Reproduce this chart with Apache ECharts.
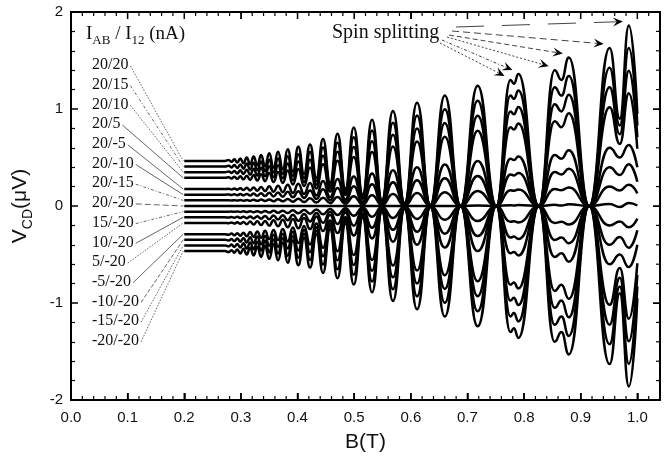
<!DOCTYPE html>
<html><head><meta charset="utf-8">
<script src="https://cdn.jsdelivr.net/npm/echarts@6/dist/echarts.min.js"></script>
<style>html,body{margin:0;padding:0;background:#fff}#c{width:664px;height:461px}</style>
</head><body><div id="c"></div>
<script>
// Magnetic field samples (T): flat start, then SdH extrema (peak/trough alternating)
const fieldB = [0.200,0.272,0.2786,0.2834,0.2884,0.2936,0.2990,0.3045,0.3103,0.3163,
  0.3225,0.3290,0.3357,0.3427,0.3500,0.3577,0.3656,0.3740,0.3827,0.3918,
  0.4014,0.4115,0.4221,0.4333,0.4450,0.4575,0.4706,0.4845,0.4993,0.5150,
  0.5316,0.5490,0.5685,0.5890,0.6110,0.6345,0.6600,0.6880,0.7180,0.7510,
  0.7760,0.7820,0.7900,0.8260,0.8540,0.8660,0.8790,0.9150,0.9510,0.9690,
  0.9850,1.0000];

const curveLabels = ['20/20','20/15','20/10','20/5','20/-5','20/-10','20/-15','20/-20',
  '15/-20','10/-20','5/-20','-5/-20','-10/-20','-15/-20','-20/-20'];

const v2020 = [0.464,0.464,0.475,0.455,0.482,0.448,0.490,0.440,0.500,0.430,
  0.510,0.420,0.525,0.410,0.545,0.395,0.560,0.380,0.585,0.355,
  0.610,0.330,0.635,0.290,0.690,0.240,0.745,0.180,0.810,0.120,
  0.890,0.060,0.980,0.030,1.065,0.010,1.140,0,1.240,0,
  1.300,1.260,1.360,0,1.400,1.300,1.530,0,1.630,0.900,
  1.860,0.950];
const v2015 = [0.406,0.406,0.416,0.398,0.422,0.392,0.429,0.385,0.438,0.376,
  0.446,0.368,0.459,0.359,0.477,0.346,0.490,0.333,0.512,0.311,
  0.534,0.289,0.556,0.254,0.604,0.210,0.652,0.158,0.709,0.105,
  0.779,0.053,0.858,0.026,0.932,0.009,0.998,0,1.085,0,
  1.138,1.103,1.190,0,1.225,1.138,1.339,0,1.426,0.830,
  1.628,0.830];
const v2010 = [0.348,0.348,0.356,0.341,0.362,0.336,0.368,0.330,0.375,0.323,
  0.383,0.315,0.394,0.308,0.409,0.296,0.420,0.285,0.439,0.266,
  0.458,0.248,0.476,0.218,0.518,0.180,0.559,0.135,0.608,0.090,
  0.668,0.045,0.735,0.023,0.799,0.008,0.855,0,0.930,0,
  0.975,0.945,1.020,0,1.050,0.975,1.148,0,1.223,0.740,
  1.395,0.710];
const v2005 = [0.290,0.290,0.297,0.284,0.301,0.280,0.306,0.275,0.313,0.269,
  0.319,0.263,0.328,0.256,0.341,0.247,0.350,0.238,0.366,0.222,
  0.381,0.206,0.397,0.181,0.431,0.150,0.466,0.113,0.506,0.075,
  0.556,0.038,0.613,0.019,0.666,0.006,0.713,0,0.775,0,
  0.813,0.788,0.850,0,0.875,0.813,0.956,0,1.019,0.640,
  1.163,0.590];
const v20m5 = [0.174,0.174,0.178,0.171,0.181,0.168,0.184,0.165,0.188,0.161,
  0.191,0.158,0.197,0.154,0.204,0.148,0.210,0.143,0.219,0.133,
  0.229,0.124,0.238,0.109,0.259,0.090,0.279,0.068,0.304,0.045,
  0.334,0.023,0.368,0.011,0.399,0.004,0.428,0,0.465,0,
  0.488,0.473,0.510,0,0.525,0.488,0.574,0,0.600,0.500,
  0.630,0.400];
const v20m10 = [0.116,0.116,0.119,0.114,0.120,0.112,0.123,0.110,0.125,0.108,
  0.128,0.105,0.131,0.103,0.136,0.099,0.140,0.095,0.146,0.089,
  0.153,0.083,0.159,0.073,0.173,0.060,0.186,0.045,0.203,0.030,
  0.223,0.015,0.245,0.008,0.266,0.003,0.285,0,0.310,0,
  0.325,0.315,0.340,0,0.350,0.325,0.383,0,0.400,0.320,
  0.430,0.250];
const v20m15 = [0.058,0.058,0.059,0.057,0.060,0.056,0.061,0.055,0.063,0.054,
  0.064,0.053,0.066,0.051,0.068,0.049,0.070,0.048,0.073,0.044,
  0.076,0.041,0.079,0.036,0.086,0.030,0.093,0.023,0.101,0.015,
  0.111,0.008,0.123,0.004,0.133,0.001,0.143,0,0.155,0,
  0.163,0.158,0.170,0,0.175,0.163,0.191,0,0.200,0.160,
  0.220,0.130];
const v20m20 = [0,0,0,0,0,0,0,0,0,0,
  0,0,0,0,0,0,0,0,0,0,
  0,0,0,0,0,0,0,0,0,0,
  0,0,0,0,0,0,0,0,0.005,0,
  0.008,0.005,0.010,0,0.012,0.004,0.018,0,0.020,-0.010,
  0.030,0.005];
const v15m20 = [-0.058,-0.058,-0.059,-0.057,-0.060,-0.056,-0.061,-0.055,-0.063,-0.054,
  -0.064,-0.053,-0.066,-0.051,-0.068,-0.049,-0.070,-0.048,-0.073,-0.044,
  -0.076,-0.041,-0.079,-0.036,-0.086,-0.030,-0.093,-0.023,-0.101,-0.015,
  -0.111,-0.008,-0.123,-0.004,-0.133,-0.001,-0.143,0,-0.155,0,
  -0.163,-0.158,-0.170,0,-0.175,-0.163,-0.191,0,-0.200,-0.160,
  -0.220,-0.130];
const v10m20 = [-0.116,-0.116,-0.119,-0.114,-0.120,-0.112,-0.123,-0.110,-0.125,-0.108,
  -0.128,-0.105,-0.131,-0.103,-0.136,-0.099,-0.140,-0.095,-0.146,-0.089,
  -0.153,-0.083,-0.159,-0.073,-0.173,-0.060,-0.186,-0.045,-0.203,-0.030,
  -0.223,-0.015,-0.245,-0.008,-0.266,-0.003,-0.285,0,-0.310,0,
  -0.325,-0.315,-0.340,0,-0.350,-0.325,-0.383,0,-0.400,-0.320,
  -0.430,-0.250];
const v05m20 = [-0.174,-0.174,-0.178,-0.171,-0.181,-0.168,-0.184,-0.165,-0.188,-0.161,
  -0.191,-0.158,-0.197,-0.154,-0.204,-0.148,-0.210,-0.143,-0.219,-0.133,
  -0.229,-0.124,-0.238,-0.109,-0.259,-0.090,-0.279,-0.068,-0.304,-0.045,
  -0.334,-0.023,-0.368,-0.011,-0.399,-0.004,-0.428,0,-0.465,0,
  -0.488,-0.473,-0.510,0,-0.525,-0.488,-0.574,0,-0.600,-0.500,
  -0.630,-0.400];
const vm05m20 = [-0.290,-0.290,-0.297,-0.284,-0.301,-0.280,-0.306,-0.275,-0.313,-0.269,
  -0.319,-0.263,-0.328,-0.256,-0.341,-0.247,-0.350,-0.238,-0.366,-0.222,
  -0.381,-0.206,-0.397,-0.181,-0.431,-0.150,-0.466,-0.113,-0.506,-0.075,
  -0.556,-0.038,-0.613,-0.019,-0.666,-0.006,-0.713,0,-0.775,0,
  -0.813,-0.788,-0.850,0,-0.875,-0.813,-0.956,0,-1.019,-0.640,
  -1.163,-0.590];
const vm10m20 = [-0.348,-0.348,-0.356,-0.341,-0.362,-0.336,-0.368,-0.330,-0.375,-0.323,
  -0.383,-0.315,-0.394,-0.308,-0.409,-0.296,-0.420,-0.285,-0.439,-0.266,
  -0.458,-0.248,-0.476,-0.218,-0.518,-0.180,-0.559,-0.135,-0.608,-0.090,
  -0.668,-0.045,-0.735,-0.023,-0.799,-0.008,-0.855,0,-0.930,0,
  -0.975,-0.945,-1.020,0,-1.050,-0.975,-1.148,0,-1.223,-0.740,
  -1.395,-0.710];
const vm15m20 = [-0.406,-0.406,-0.416,-0.398,-0.422,-0.392,-0.429,-0.385,-0.438,-0.376,
  -0.446,-0.368,-0.459,-0.359,-0.477,-0.346,-0.490,-0.333,-0.512,-0.311,
  -0.534,-0.289,-0.556,-0.254,-0.604,-0.210,-0.652,-0.158,-0.709,-0.105,
  -0.779,-0.053,-0.858,-0.026,-0.932,-0.009,-0.998,0,-1.085,0,
  -1.138,-1.103,-1.190,0,-1.225,-1.138,-1.339,0,-1.426,-0.830,
  -1.628,-0.830];
const vm20m20 = [-0.464,-0.464,-0.475,-0.455,-0.482,-0.448,-0.490,-0.440,-0.500,-0.430,
  -0.510,-0.420,-0.525,-0.410,-0.545,-0.395,-0.560,-0.380,-0.585,-0.355,
  -0.610,-0.330,-0.635,-0.290,-0.690,-0.240,-0.745,-0.180,-0.810,-0.120,
  -0.890,-0.060,-0.980,-0.030,-1.065,-0.010,-1.140,0,-1.240,0,
  -1.300,-1.260,-1.360,0,-1.400,-1.300,-1.530,0,-1.630,-0.900,
  -1.860,-0.950];

const curves = [v2020,v2015,v2010,v2005,v20m5,v20m10,v20m15,v20m20,
  v15m20,v10m20,v05m20,vm05m20,vm10m20,vm15m20,vm20m20];

// Peaks marked as spin splitting (indices into fieldB)
const spinPeakIdx = [40,42,44,46,48,50];

const xTickLabels = ['0.0','0.1','0.2','0.3','0.4','0.5','0.6','0.7','0.8','0.9','1.0'];
const yTickLabels = ['-2','-1','0','1','2'];

const SANS = '"Liberation Sans", Arial, sans-serif';
const SERIF = '"Liberation Serif", "Times New Roman", serif';
const X_MIN = 0, X_MAX = 1.04, Y_MIN = -2, Y_MAX = 2;

const chart = echarts.init(document.getElementById('c'), null, {renderer:'canvas'});

const series = curves.map((vals, k) => ({
  type: 'line',
  name: curveLabels[k],
  data: vals.map((v, i) => [fieldB[i], v]),
  symbol: 'none',
  smooth: 0.5,
  smoothMonotone: 'x',
  lineStyle: {color: '#000', width: 2.5},
  silent: true,
  z: 3
}));

function axisLine() { return {show: true, onZero: false, lineStyle: {color: '#000', width: 2}}; }

const option = {
  animation: false,
  backgroundColor: '#fff',
  grid: {left: 71, right: 4, top: 12, bottom: 61, outerBoundsMode: 'none'},
  xAxis: [
    {type: 'value', position: 'bottom', min: X_MIN, max: X_MAX, interval: 0.1,
     axisLine: axisLine(),
     axisTick: {show: true, inside: true, length: 7, lineStyle: {color: '#000', width: 1.5}},
     axisLabel: {show: true, margin: 10, color: '#111', fontFamily: SANS, fontSize: 15,
       formatter: v => {
         const k = Math.round(v * 10);
         return Math.abs(v * 10 - k) < 1e-6 && k <= 10 ? xTickLabels[k] : '';
       }},
     splitLine: {show: false},
     name: 'B(T)', nameLocation: 'middle', nameGap: 32,
     nameTextStyle: {fontFamily: SANS, fontSize: 21, color: '#111'}},
    {type: 'value', position: 'top', min: X_MIN, max: X_MAX, interval: 0.1,
     axisLine: axisLine(),
     axisTick: {show: true, inside: true, length: 7},
     axisLabel: {show: true, formatter: () => ''},
     splitLine: {show: false}}
  ],
  yAxis: [
    {type: 'value', position: 'left', min: Y_MIN, max: Y_MAX, interval: 1,
     axisLine: axisLine(),
     axisTick: {show: true, inside: true, length: 7, lineStyle: {color: '#000', width: 1.5}},
     minorTick: {show: true, splitNumber: 5, length: 4, lineStyle: {color: '#000', width: 1.2}},
     axisLabel: {show: true, margin: 8, color: '#111', fontFamily: SANS, fontSize: 15,
       formatter: v => yTickLabels[Math.round(v) + 2]},
     splitLine: {show: false},
     name: '{v|V}{s|CD}{v|(μV)}', nameLocation: 'middle', nameGap: 36, nameRotate: 90,
     nameTextStyle: {
       fontFamily: SANS, fontSize: 21, color: '#111',
       rich: {
         v: {fontFamily: SANS, fontSize: 21, color: '#111', lineHeight: 30},
         s: {fontFamily: SANS, fontSize: 14, color: '#111', lineHeight: 14, verticalAlign: 'bottom'}
       }
     }},
    {type: 'value', position: 'right', min: Y_MIN, max: Y_MAX, interval: 1,
     axisLine: axisLine(),
     axisTick: {show: true, inside: true, length: 7},
     axisLabel: {show: true, formatter: () => ''},
     splitLine: {show: false}}
  ],
  series: series
};
chart.setOption(option);

// ---- frame ticks (top/right/bottom minor) drawn from axis scale ----
const toPx = (x, y) => chart.convertToPixel({xAxisIndex: 0, yAxisIndex: 0}, [x, y]);
const graphics = [];
const tl = toPx(X_MIN, Y_MAX), br = toPx(X_MAX, Y_MIN);
const frameStyle = {stroke: '#000', lineWidth: 2};
graphics.push({type: 'line', z: 20, silent: true, shape: {x1: tl[0] - 1, y1: tl[1], x2: br[0] + 1, y2: tl[1]}, style: frameStyle});
graphics.push({type: 'line', z: 20, silent: true, shape: {x1: br[0], y1: tl[1], x2: br[0], y2: br[1]}, style: frameStyle});
for (let i = 0; i <= 52; i++) {
  const xv = i * 0.02;
  const major = i % 5 === 0;
  const len = major ? 7 : 4;
  const px = toPx(xv, 0)[0];
  const st = {stroke: '#000', lineWidth: major ? 1.5 : 1.2};
  graphics.push({type: 'line', z: 20, silent: true, shape: {x1: px, y1: tl[1], x2: px, y2: tl[1] + len}, style: st});
  graphics.push({type: 'line', z: 20, silent: true, shape: {x1: px, y1: br[1], x2: px, y2: br[1] - len}, style: st});
}
for (let j = 0; j <= 20; j++) {
  const yv = Y_MIN + j * 0.2;
  const major = j % 5 === 0;
  const len = major ? 7 : 4;
  const py = toPx(0, yv)[1];
  graphics.push({type: 'line', z: 20, silent: true, shape: {x1: br[0], y1: py, x2: br[0] - len, y2: py},
    style: {stroke: '#000', lineWidth: major ? 1.5 : 1.2}});
}

// ---- annotations (labels, leader lines, spin-splitting arrows) ----
const measureCtx = document.createElement('canvas').getContext('2d');
function textWidth(t, font) { measureCtx.font = font; return measureCtx.measureText(t).width; }

const labelFont = '16px ' + SERIF;
const leaderDashes = [[1.5,1.5],[3,2,1,2],[1.5,1.5],null,null,null,[3,2,1,2],[6,3],
  [3,2,1,2],null,[1.5,1.5],null,[4,2],[1.5,1.5],[1.5,1.5]];

graphics.push({
  type: 'text', x: 86, y: 34, z: 10,
  style: {
    text: '{i|I}{s|AB}{i| / I}{s|12}{i| (nA)}',
    textVerticalAlign: 'middle', verticalAlign: 'middle',
    rich: {
      i: {fontFamily: SERIF, fontSize: 19, fill: '#111', lineHeight: 26},
      s: {fontFamily: SERIF, fontSize: 13, fill: '#111', lineHeight: 13, verticalAlign: 'bottom'}
    }
  }
});

curveLabels.forEach((lab, k) => {
  const ly = 65 + k * 19.7;
  const lx = 92;
  graphics.push({
    type: 'text', x: lx, y: ly, z: 10,
    style: {text: lab, font: labelFont, fill: '#111', textVerticalAlign: 'middle', verticalAlign: 'middle'}
  });
  const w = textWidth(lab, labelFont);
  const end = toPx(fieldB[0], curves[k][0]);
  graphics.push({
    type: 'line', z: 5,
    shape: {x1: lx + w + 2, y1: ly + 1, x2: end[0] - 1, y2: end[1]},
    style: {stroke: '#666', lineWidth: 1, lineDash: leaderDashes[k] || null}
  });
});

graphics.push({
  type: 'text', x: 332, y: 33, z: 10,
  style: {text: 'Spin splitting', font: '20px ' + SERIF, fill: '#111', textVerticalAlign: 'middle', verticalAlign: 'middle'}
});
const arrowStarts = [[440,43],[442,40],[447,37],[449,35],[452,31],[456,27]];
const arrowDashes = [[2,2],[3,2,1,2],[2,2],[5,3],[7,4],[28,18]];
spinPeakIdx.forEach((idx, j) => {
  const p = toPx(fieldB[idx], v2020[idx]);
  const tx = p[0] - 6, ty = p[1] - 4;
  const sx = arrowStarts[j][0], sy = arrowStarts[j][1];
  const dx = tx - sx, dy = ty - sy, L = Math.hypot(dx, dy);
  const ux = dx / L, uy = dy / L, nx = -uy, ny = ux;
  graphics.push({
    type: 'line', z: 6,
    shape: {x1: sx, y1: sy, x2: tx - ux * 5, y2: ty - uy * 5},
    style: {stroke: '#444', lineWidth: 1, lineDash: arrowDashes[j]}
  });
  graphics.push({
    type: 'polygon', z: 7,
    shape: {points: [
      [tx, ty],
      [tx - ux * 10 + nx * 4.5, ty - uy * 10 + ny * 4.5],
      [tx - ux * 6, ty - uy * 6],
      [tx - ux * 10 - nx * 4.5, ty - uy * 10 - ny * 4.5]
    ]},
    style: {fill: '#000'}
  });
});

chart.setOption({graphic: graphics});
</script>
</body></html>
